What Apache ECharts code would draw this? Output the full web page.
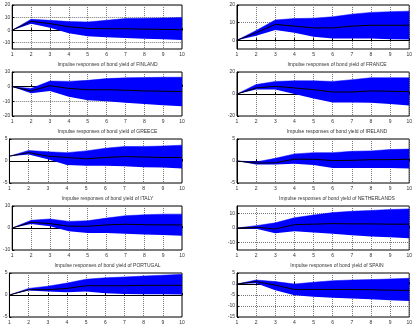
<!DOCTYPE html>
<html>
<head>
<meta charset="utf-8">
<script src="https://cdn.jsdelivr.net/npm/echarts@6/dist/echarts.min.js"></script>
<style>
  html, body { margin: 0; padding: 0; background: #fff; }
  #chart { width: 415px; height: 328px; }
</style>
</head>
<body>
<div id="chart"></div>
<script>
const horizons = ['1', '2', '3', '4', '5', '6', '7', '8', '9', '10'];
const countries = ['AUSTRIA', 'BELGIUM', 'FINLAND', 'FRANCE', 'GREECE', 'IRELAND', 'ITALY', 'NETHERLANDS', 'PORTUGAL', 'SPAIN'];

const austriaMid = [0, 7, 5.2, 2.7, 1.4, 1.1, 1.1, 0.8, 0.6, 0.3];
const austriaUp = [0, 8.6, 7.8, 6.8, 6.5, 7.8, 9.2, 9.5, 9.7, 10];
const austriaLow = [0, 5.1, 1.9, -2.4, -4.9, -5.7, -6.2, -6.8, -7.3, -7.8];

const belgiumMid = [0, 4.2, 9, 8, 7, 7, 8, 8.5, 8.5, 8.5];
const belgiumUp = [0, 5.5, 11.5, 12.3, 12.5, 13.3, 14.8, 15.8, 16.2, 16.5];
const belgiumLow = [0, 2.5, 5.8, 4.2, 2, 1, 1, 1, 0.6, 0.4];

const finlandMid = [0, -2.9, 0.7, -1.2, -2.1, -2.1, -2.4, -2.9, -3.1, -3.3];
const finlandUp = [0, -1.2, 3.8, 3.6, 4.3, 5.5, 6, 6.2, 6.4, 6.4];
const finlandLow = [0, -4.5, -2.9, -6.9, -9.3, -10, -11, -11.9, -12.6, -13.3];

const franceMid = [0, 5.5, 7, 5.5, 4, 1.8, 1.8, 2.8, 2.5, 2.2];
const franceUp = [0, 8.6, 11.4, 12, 12, 11.4, 13, 14.8, 14.8, 14.8];
const franceLow = [0, 4, 4, 0, -4, -7.7, -7.7, -8, -9.2, -10.5];

const greeceMid = [1.1, 1.9, 1.1, 0.8, 0.5, 0.8, 1, 0.9, 0.8, 0.8];
const greeceUp = [1.1, 2.4, 2.1, 1.9, 2.3, 2.9, 3.3, 3.3, 3.4, 3.6];
const greeceLow = [1.1, 1.5, 0.4, -0.9, -1.1, -1.1, -1.2, -1.4, -1.5, -1.7];

const irelandMid = [0, -0.5, -0.4, 0.4, 0.4, 0.1, 0.15, 0.3, 0.3, 0.4];
const irelandUp = [0, -0.2, 0.6, 1.6, 1.9, 1.9, 2.2, 2.3, 2.6, 2.7];
const irelandLow = [0, -0.8, -0.8, -0.6, -0.9, -1.6, -1.6, -1.6, -1.6, -1.7];

const italyMid = [0, 2.6, 2, 0.8, 0.8, 1.4, 1.7, 1.5, 1.4, 1.4];
const italyUp = [0, 3.5, 4.1, 3, 3.3, 4.5, 5.6, 6, 6.3, 6.3];
const italyLow = [0, 1.8, 0.8, -1.5, -2.3, -2.3, -2.6, -2.9, -3.2, -3.5];

const netherlandsMid = [0, 0.5, -0.7, 2.3, 2.6, 3, 2.8, 2.8, 2.6, 2.6];
const netherlandsUp = [0, 1.6, 3.5, 7, 8.8, 10.5, 11.4, 12, 12.6, 13];
const netherlandsLow = [0, -0.5, -3.5, -2.3, -3, -4, -4.9, -5.8, -6.3, -7];

const portugalMid = [0, 1.2, 1.2, 1.5, 2.1, 2.1, 2.1, 2.2, 2.2, 2.2];
const portugalUp = [0, 1.5, 2, 2.7, 3.6, 3.9, 4.1, 4.3, 4.5, 4.7];
const portugalLow = [0, 1, 0.8, 0.6, 0.8, 0.4, 0.2, 0.15, 0.15, 0.1];

const spainMid = [0, 1.1, -0.5, -2.5, -2.5, -2.5, -2.5, -2.6, -2.8, -2.9];
const spainUp = [0, 1.8, 1.1, 0, 0.8, 1.5, 1.8, 2, 2.3, 2.6];
const spainLow = [0, 0.3, -2.8, -5.1, -5.8, -6.3, -6.6, -6.9, -7.4, -7.7];

const mids = [austriaMid, belgiumMid, finlandMid, franceMid, greeceMid, irelandMid, italyMid, netherlandsMid, portugalMid, spainMid];
const ups = [austriaUp, belgiumUp, finlandUp, franceUp, greeceUp, irelandUp, italyUp, netherlandsUp, portugalUp, spainUp];
const lows = [austriaLow, belgiumLow, finlandLow, franceLow, greeceLow, irelandLow, italyLow, netherlandsLow, portugalLow, spainLow];

const yMin = [-15, -5, -20, -20, -5, -5, -10, -15, -5, -15];
const yMax = [20, 20, 10, 20, 5, 5, 10, 15, 5, 5];
const yTicks = [
  [-10, 0, 10, 20], [0, 10, 20], [-20, -10, 0, 10], [-20, 0, 20], [-5, 0, 5],
  [-5, 0, 5], [-10, 0, 10], [-10, 0, 10], [-5, 0, 5], [-15, -10, -5, 0, 5]
];

const colLeft = [7, 237];
const colWidth = [175, 174];
const rowTop = [5, 72, 139, 206, 273];
const plotH = 44;
const font = 'Liberation Sans, Arial, sans-serif';
const textColor = '#333';
const gridLine = { show: true, lineStyle: { color: '#777', type: 'dotted', width: 1 } };

const grid = [], xAxis = [], yAxis = [], series = [], graphic = [];

countries.forEach((name, i) => {
  const col = i % 2;
  const row = Math.floor(i / 2);
  grid.push({
    left: colLeft[col], top: rowTop[row], width: colWidth[col], height: plotH,
    show: true, borderColor: '#000', borderWidth: 1, backgroundColor: 'transparent'
  });
  xAxis.push({
    type: 'category', gridIndex: i, data: horizons, boundaryGap: false,
    axisLine: { lineStyle: { color: '#000', width: 1 } },
    axisTick: { inside: true, length: 2, lineStyle: { color: '#000' } },
    axisLabel: { fontSize: 5, margin: 3, color: textColor, fontFamily: font, interval: 0 },
    splitLine: gridLine
  });
  yAxis.push({
    type: 'value', gridIndex: i, min: yMin[i], max: yMax[i],
    axisLine: { show: true, lineStyle: { color: '#000', width: 1 } },
    axisTick: { show: true, inside: true, length: 2, customValues: yTicks[i], lineStyle: { color: '#000' } },
    axisLabel: { fontSize: 5, margin: 2, color: textColor, fontFamily: font, customValues: yTicks[i] },
    splitLine: gridLine
  });
  const stackId = 'band' + i;
  series.push({
    type: 'line', xAxisIndex: i, yAxisIndex: i, stack: stackId, stackStrategy: 'all',
    data: lows[i],
    symbol: 'none', lineStyle: { width: 0, opacity: 0 }, silent: true, z: 2
  });
  series.push({
    type: 'line', xAxisIndex: i, yAxisIndex: i, stack: stackId, stackStrategy: 'all',
    data: ups[i].map((u, k) => u - lows[i][k]),
    symbol: 'none', lineStyle: { width: 0.5, color: '#0000ff' },
    areaStyle: { color: '#0000ff', opacity: 1 }, silent: true, z: 2
  });
  series.push({
    type: 'line', xAxisIndex: i, yAxisIndex: i,
    data: mids[i],
    symbol: 'none', lineStyle: { width: 1, color: '#000' }, silent: true, z: 3
  });
  graphic.push({
    type: 'text',
    x: colLeft[col] + colWidth[col] / 2 + 13,
    y: rowTop[row] - 7,
    style: {
      text: 'Impulse responses of bond yield of ' + name,
      font: '5px ' + font, fill: textColor,
      textAlign: 'center', textVerticalAlign: 'middle'
    }
  });
});

const chart = echarts.init(document.getElementById('chart'), null, { renderer: 'canvas' });
chart.setOption({
  animation: false,
  backgroundColor: '#fff',
  grid: grid,
  xAxis: xAxis,
  yAxis: yAxis,
  series: series,
  graphic: graphic
});
</script>
</body>
</html>
